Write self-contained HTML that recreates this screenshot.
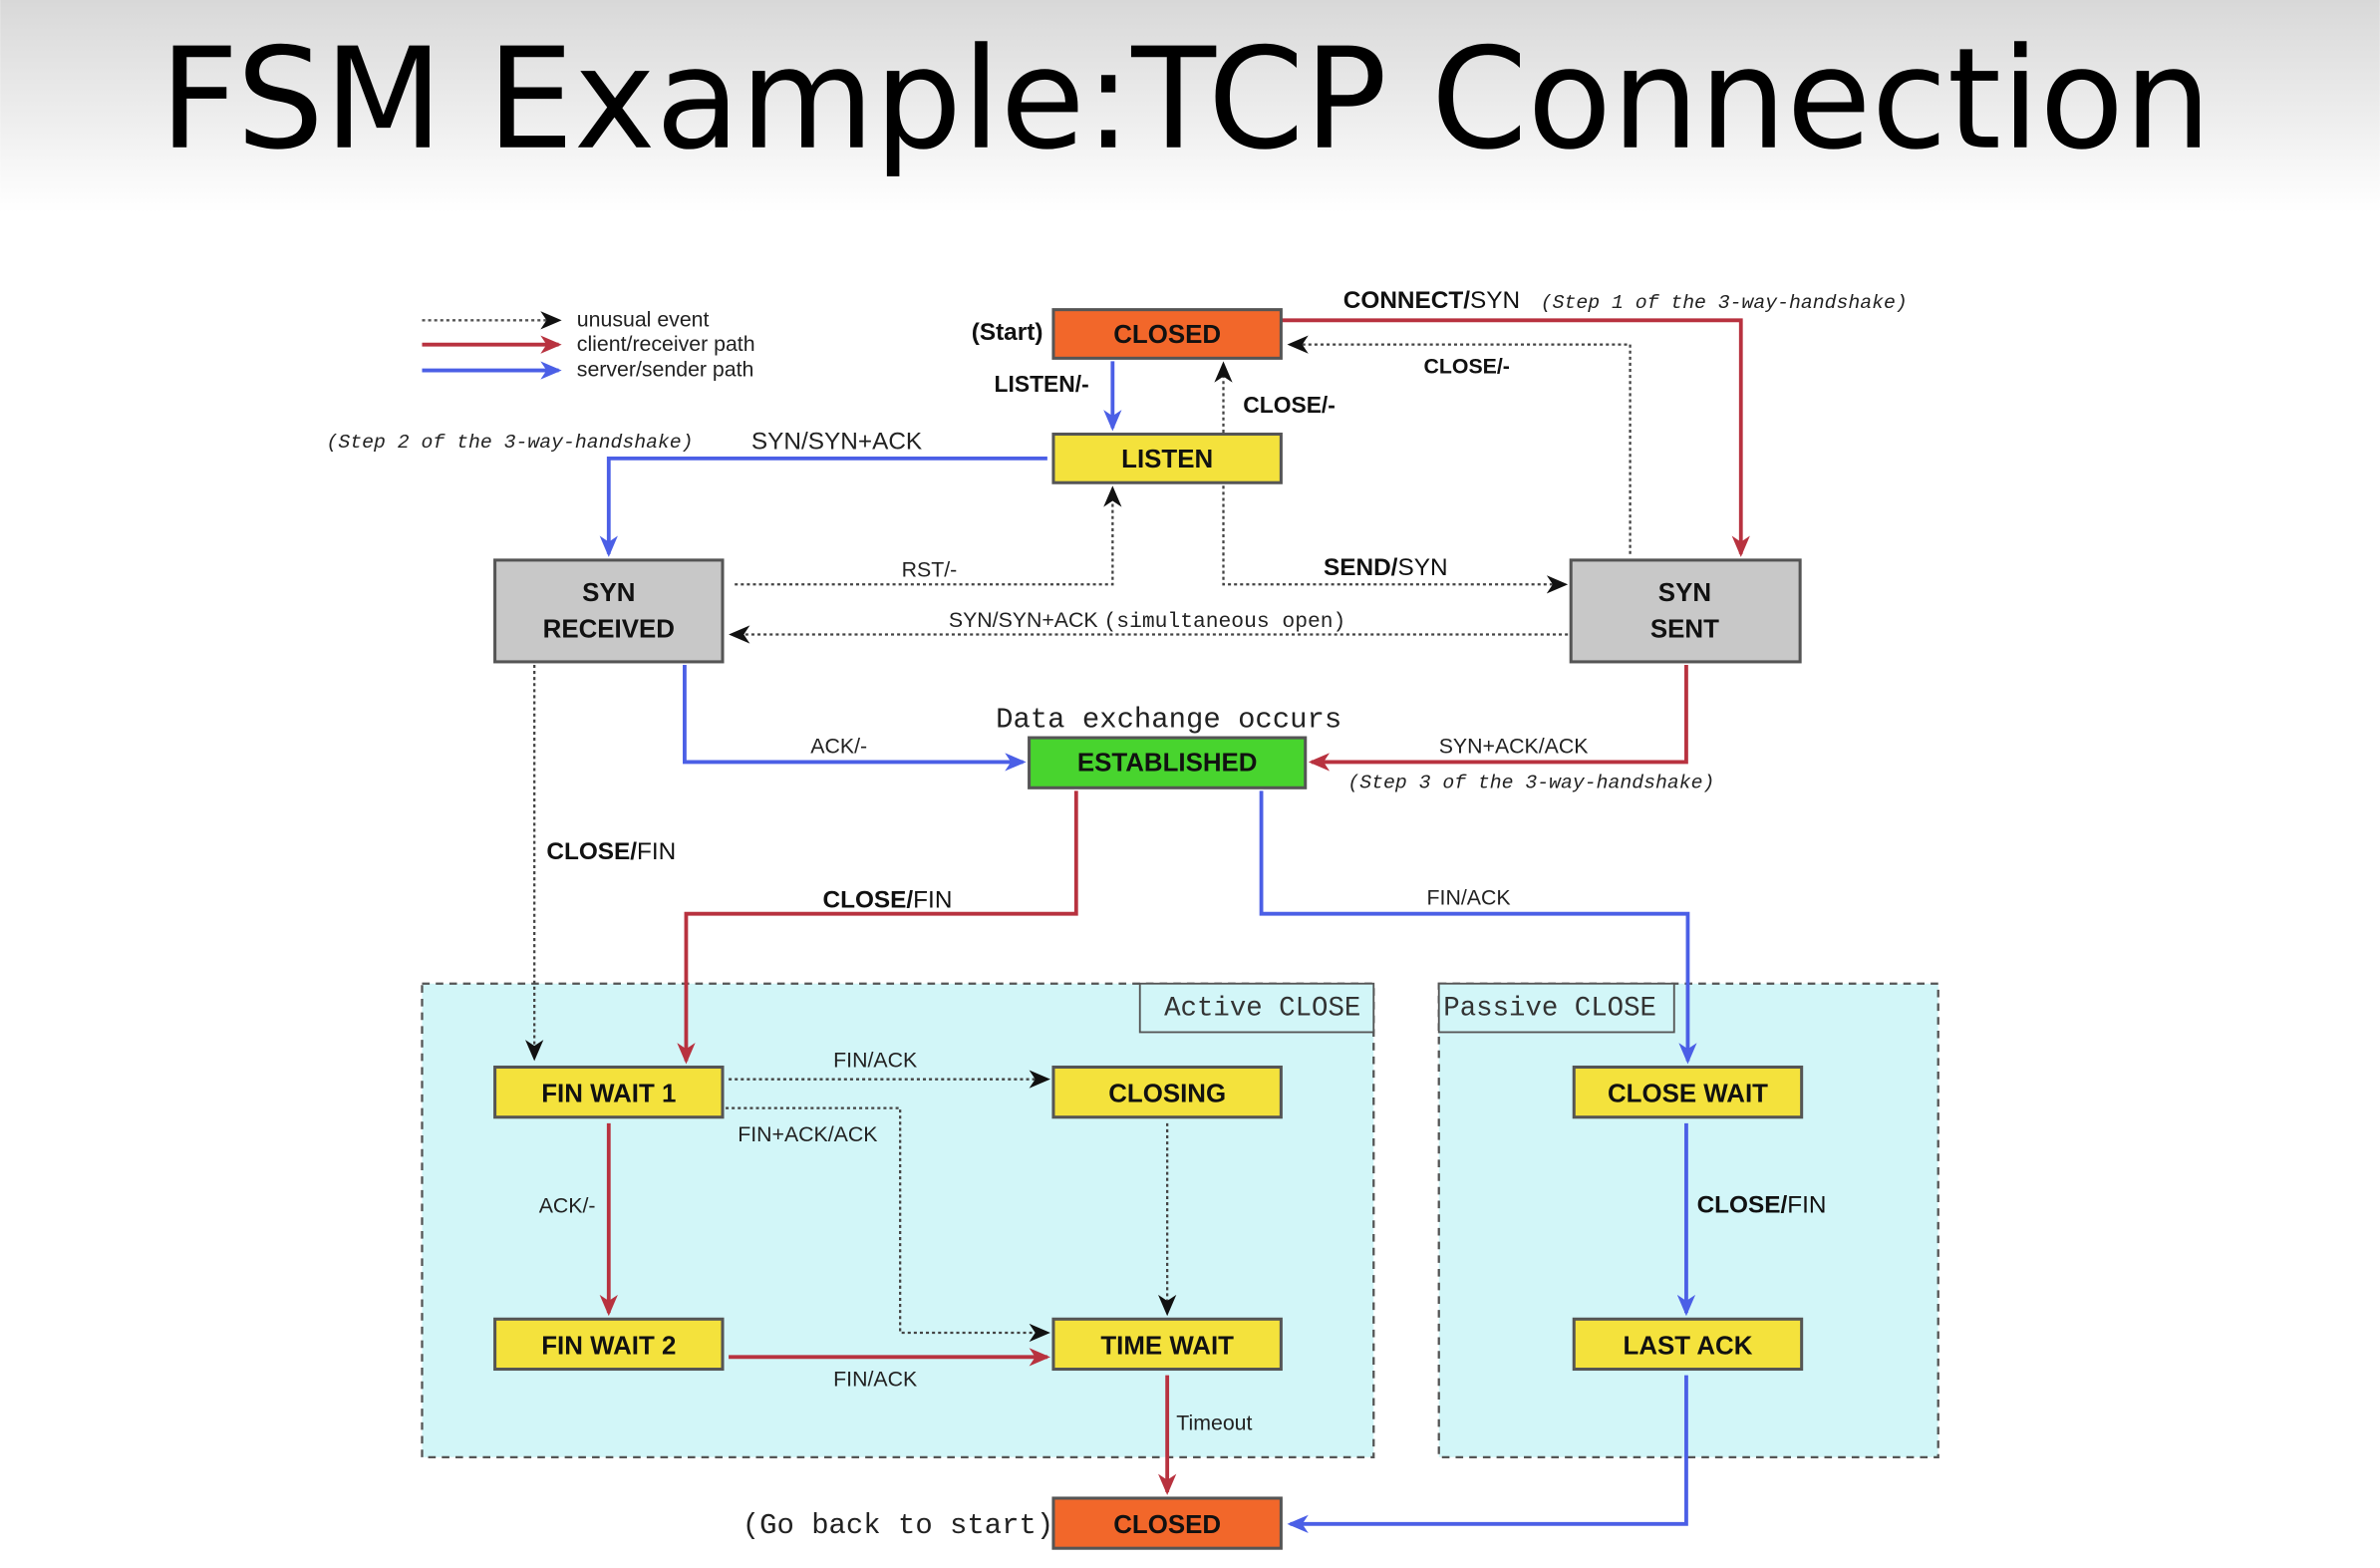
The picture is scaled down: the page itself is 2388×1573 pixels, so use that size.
<!DOCTYPE html>
<html><head><meta charset="utf-8"><style>
html,body{margin:0;padding:0;background:#fff;}
svg{display:block;}
.b{font-family:"Liberation Sans",sans-serif;font-weight:bold;font-size:16px;fill:#111;}
.n{font-family:"Liberation Sans",sans-serif;font-size:14px;fill:#222;}
.m{font-family:"Liberation Mono",monospace;font-style:italic;font-size:13px;fill:#222;}
.st{font-family:"Liberation Sans",sans-serif;font-weight:bold;font-size:17px;fill:#111;text-anchor:middle;}
</style></head><body>
<svg width="2388" height="1573" viewBox="0 0 1568 1033" xmlns="http://www.w3.org/2000/svg">
<defs>
<linearGradient id="bg" x1="0" y1="0" x2="0" y2="1">
<stop offset="0" stop-color="#d8d8d8"/><stop offset="1" stop-color="#ffffff"/></linearGradient>
<marker id="ak" markerWidth="14" markerHeight="12" refX="12" refY="6" orient="auto" markerUnits="userSpaceOnUse"><path d="M0,0 L14,6 L0,12 L4,6 z" fill="#111"/></marker>
<marker id="ar" markerWidth="14" markerHeight="12" refX="12" refY="6" orient="auto" markerUnits="userSpaceOnUse"><path d="M0,0 L14,6 L0,12 L4,6 z" fill="#b8323f"/></marker>
<marker id="ab" markerWidth="14" markerHeight="12" refX="12" refY="6" orient="auto" markerUnits="userSpaceOnUse"><path d="M0,0 L14,6 L0,12 L4,6 z" fill="#4b5fe6"/></marker>
</defs>
<rect x="0" y="0" width="1568" height="140" fill="url(#bg)"/>
<text x="105" y="97" textLength="1352" lengthAdjust="spacingAndGlyphs" style="font-family:'DejaVu Sans','Liberation Sans',sans-serif;font-size:92px;fill:#000;">FSM Example:TCP Connection</text>

<!-- regions -->
<rect x="278" y="648" width="627" height="312" fill="#d2f6f8" stroke="#555" stroke-width="1.5" stroke-dasharray="5,4"/>
<rect x="751" y="648" width="154" height="32" fill="#d2f6f8" stroke="#555" stroke-width="1.2"/>
<text x="767" y="669" style="font-family:'Liberation Mono',monospace;font-size:18px;fill:#333;">Active CLOSE</text>
<rect x="948" y="648" width="329" height="312" fill="#d2f6f8" stroke="#555" stroke-width="1.5" stroke-dasharray="5,4"/>
<rect x="948" y="648" width="155" height="32" fill="#d2f6f8" stroke="#555" stroke-width="1.2"/>
<text x="951" y="669" style="font-family:'Liberation Mono',monospace;font-size:18px;fill:#333;">Passive CLOSE</text>

<!-- legend -->
<g stroke-width="2.5" fill="none">
<line x1="278" y1="211" x2="368" y2="211" stroke="#555" stroke-width="1.5" stroke-dasharray="2,2" marker-end="url(#ak)"/>
<line x1="278" y1="227" x2="368" y2="227" stroke="#b8323f" marker-end="url(#ar)"/>
<line x1="278" y1="244" x2="368" y2="244" stroke="#4b5fe6" marker-end="url(#ab)"/>
</g>
<text class="n" x="380" y="215">unusual event</text>
<text class="n" x="380" y="231">client/receiver path</text>
<text class="n" x="380" y="248">server/sender path</text>

<!-- connectors -->
<g fill="none" stroke-width="2.5">
<polyline points="844,211 1147,211 1147,365" stroke="#b8323f" marker-end="url(#ar)"/>
<polyline points="1074,365 1074,227 850,227" stroke="#444" stroke-width="1.5" stroke-dasharray="2,2" marker-end="url(#ak)"/>
<line x1="733" y1="238" x2="733" y2="282" stroke="#4b5fe6" marker-end="url(#ab)"/>
<line x1="806" y1="285" x2="806" y2="240" stroke="#444" stroke-width="1.5" stroke-dasharray="2,2" marker-end="url(#ak)"/>
<polyline points="690,302 401,302 401,365" stroke="#4b5fe6" marker-end="url(#ab)"/>
<polyline points="484,385 733,385 733,322" stroke="#444" stroke-width="1.5" stroke-dasharray="2,2" marker-end="url(#ak)"/>
<polyline points="806,320 806,385 1031,385" stroke="#444" stroke-width="1.5" stroke-dasharray="2,2" marker-end="url(#ak)"/>
<line x1="1033" y1="418" x2="482" y2="418" stroke="#444" stroke-width="1.5" stroke-dasharray="2,2" marker-end="url(#ak)"/>
<polyline points="451,438 451,502 674,502" stroke="#4b5fe6" marker-end="url(#ab)"/>
<polyline points="1111,438 1111,502 864,502" stroke="#b8323f" marker-end="url(#ar)"/>
<line x1="352" y1="438" x2="352" y2="697" stroke="#444" stroke-width="1.5" stroke-dasharray="2,2" marker-end="url(#ak)"/>
<polyline points="709,521 709,602 452,602 452,699" stroke="#b8323f" marker-end="url(#ar)"/>
<polyline points="831,521 831,602 1112,602 1112,699" stroke="#4b5fe6" marker-end="url(#ab)"/>
<line x1="480" y1="711" x2="690" y2="711" stroke="#444" stroke-width="1.5" stroke-dasharray="2,2" marker-end="url(#ak)"/>
<polyline points="478,730 593,730 593,878 690,878" stroke="#444" stroke-width="1.5" stroke-dasharray="2,2" marker-end="url(#ak)"/>
<line x1="769" y1="740" x2="769" y2="865" stroke="#444" stroke-width="1.5" stroke-dasharray="2,2" marker-end="url(#ak)"/>
<line x1="401" y1="740" x2="401" y2="865" stroke="#b8323f" marker-end="url(#ar)"/>
<line x1="480" y1="894" x2="690" y2="894" stroke="#b8323f" marker-end="url(#ar)"/>
<line x1="769" y1="906" x2="769" y2="983" stroke="#b8323f" marker-end="url(#ar)"/>
<line x1="1111" y1="740" x2="1111" y2="865" stroke="#4b5fe6" marker-end="url(#ab)"/>
<polyline points="1111,906 1111,1004 850,1004" stroke="#4b5fe6" marker-end="url(#ab)"/>
</g>

<!-- states -->
<g stroke="#555" stroke-width="2">
<rect x="694" y="204" width="150" height="32" fill="#f2672a"/>
<rect x="694" y="286" width="150" height="32" fill="#f4e23c"/>
<rect x="326" y="369" width="150" height="67" fill="#c8c8c8"/>
<rect x="1035" y="369" width="151" height="67" fill="#c8c8c8"/>
<rect x="678" y="486" width="182" height="33" fill="#48d42e"/>
<rect x="326" y="703" width="150" height="33" fill="#f4e23c"/>
<rect x="694" y="703" width="150" height="33" fill="#f4e23c"/>
<rect x="326" y="869" width="150" height="33" fill="#f4e23c"/>
<rect x="694" y="869" width="150" height="33" fill="#f4e23c"/>
<rect x="1037" y="703" width="150" height="33" fill="#f4e23c"/>
<rect x="1037" y="869" width="150" height="33" fill="#f4e23c"/>
<rect x="694" y="987" width="150" height="33" fill="#f2672a"/>
</g>
<text class="st" x="769" y="226">CLOSED</text>
<text class="st" x="769" y="308">LISTEN</text>
<text class="st" x="401" y="396">SYN</text>
<text class="st" x="401" y="420">RECEIVED</text>
<text class="st" x="1110" y="396">SYN</text>
<text class="st" x="1110" y="420">SENT</text>
<text class="st" x="769" y="508">ESTABLISHED</text>
<text class="st" x="401" y="726">FIN WAIT 1</text>
<text class="st" x="769" y="726">CLOSING</text>
<text class="st" x="401" y="892">FIN WAIT 2</text>
<text class="st" x="769" y="892">TIME WAIT</text>
<text class="st" x="1112" y="726">CLOSE WAIT</text>
<text class="st" x="1112" y="892">LAST ACK</text>
<text class="st" x="769" y="1010">CLOSED</text>

<!-- labels -->
<text class="b" x="640" y="224">(Start)</text>
<text class="b" x="885" y="203">CONNECT/<tspan font-weight="normal">SYN</tspan></text>
<text class="m" x="1015" y="203">(Step 1 of the 3-way-handshake)</text>
<text class="b" x="938" y="246" style="font-size:14px">CLOSE/-</text>
<text class="b" x="655" y="258" style="font-size:15px">LISTEN/-</text>
<text class="b" x="819" y="272" style="font-size:15px">CLOSE/-</text>
<text class="m" x="215" y="295">(Step 2 of the 3-way-handshake)</text>
<text class="n" x="495" y="296" style="font-size:16px">SYN/SYN+ACK</text>
<text class="n" x="594" y="380">RST/-</text>
<text class="b" x="872" y="379">SEND/<tspan font-weight="normal">SYN</tspan></text>
<text class="n" x="625" y="413">SYN/SYN+ACK <tspan style="font-family:'Liberation Mono',monospace;font-size:14px">(simultaneous open)</tspan></text>
<text x="656" y="479" style="font-family:'Liberation Mono',monospace;font-size:19px;fill:#222">Data exchange occurs</text>
<text class="n" x="534" y="496">ACK/-</text>
<text class="n" x="948" y="496">SYN+ACK/ACK</text>
<text class="m" x="888" y="519">(Step 3 of the 3-way-handshake)</text>
<text class="b" x="360" y="566">CLOSE/<tspan font-weight="normal">FIN</tspan></text>
<text class="b" x="542" y="598">CLOSE/<tspan font-weight="normal">FIN</tspan></text>
<text class="n" x="940" y="596">FIN/ACK</text>
<text class="n" x="549" y="703">FIN/ACK</text>
<text class="n" x="486" y="752">FIN+ACK/ACK</text>
<text class="n" x="355" y="799">ACK/-</text>
<text class="b" x="1118" y="799">CLOSE/<tspan font-weight="normal">FIN</tspan></text>
<text class="n" x="549" y="913">FIN/ACK</text>
<text class="n" x="775" y="942">Timeout</text>
<text x="489" y="1010" style="font-family:'Liberation Mono',monospace;font-size:19px;fill:#222">(Go back to start)</text>
</svg>
</body></html>
